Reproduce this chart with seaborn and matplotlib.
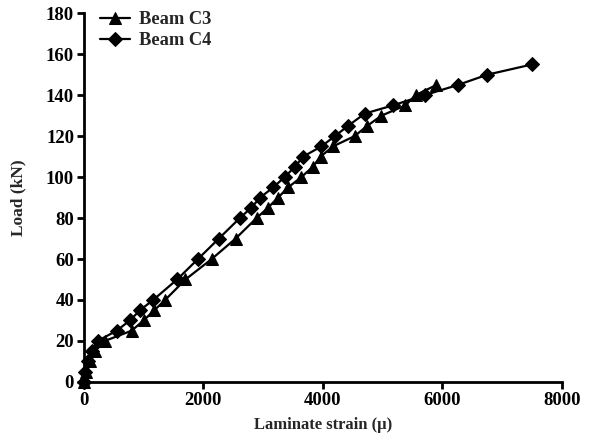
import matplotlib
matplotlib.use("Agg")
import matplotlib.pyplot as plt
import pandas as pd
import seaborn as sns

# Beam C3 (triangles)
c3_strain = [0, 40, 100, 180, 350, 800, 1000, 1180, 1360, 1700, 2140, 2540, 2890, 3080,
             3250, 3420, 3640, 3830, 3960, 4170, 4530, 4740, 4980, 5380, 5550, 5900]
c3_load = [0, 5, 10, 15, 20, 25, 30, 35, 40, 50, 60, 70, 80, 85,
           90, 95, 100, 105, 110, 115, 120, 125, 130, 135, 140, 145]

# Beam C4 (diamonds)
c4_strain = [0, 20, 70, 130, 230, 550, 770, 940, 1160, 1560, 1910, 2260, 2610, 2800,
             2950, 3170, 3360, 3530, 3670, 3975, 4200, 4420, 4700, 5170, 5700, 6260, 6750, 7500]
c4_load = [0, 5, 10, 15, 20, 25, 30, 35, 40, 50, 60, 70, 80, 85,
           90, 95, 100, 105, 110, 115, 120, 125, 131, 135, 140, 145, 150, 155]

x_ticks = [0, 2000, 4000, 6000, 8000]
y_ticks = [0, 20, 40, 60, 80, 100, 120, 140, 160, 180]

sns.set_theme(style="ticks")
plt.rcParams["font.family"] = ["Liberation Serif", "DejaVu Serif"]
plt.rcParams["font.weight"] = "bold"

fig = plt.figure(figsize=(6.03, 4.41), dpi=100)
ax = fig.add_axes([0.139, 0.134, 0.793, 0.836])

sns.lineplot(x=c3_strain, y=c3_load, sort=False, color="black", marker="^",
             markersize=9, markeredgecolor="black", linewidth=1.6, label="Beam C3", ax=ax)
sns.lineplot(x=c4_strain, y=c4_load, sort=False, color="black", marker="D",
             markersize=7, markeredgecolor="black", linewidth=1.6, label="Beam C4", ax=ax)

ax.set_xlim(0, 8000)
ax.set_ylim(0, 180)
ax.set_xticks(x_ticks)
ax.set_yticks(y_ticks)
ax.tick_params(axis="both", direction="out", length=5, width=2, colors="black",
               labelsize=13.5, pad=2)
for lbl in ax.get_xticklabels() + ax.get_yticklabels():
    lbl.set_fontweight("bold")
for side in ["left", "bottom"]:
    ax.spines[side].set_linewidth(2)
    ax.spines[side].set_color("black")
sns.despine(ax=ax)
ax.set_xlabel("Laminate strain (\u03bc)", fontsize=12, fontweight="bold", labelpad=6)
ax.set_ylabel("Load (kN)", fontsize=12.5, fontweight="bold", labelpad=14)

leg = ax.legend(loc="upper left", bbox_to_anchor=(0.0, 1.05), frameon=False,
                handlelength=1.6, handletextpad=0.5, labelspacing=0.22,
                prop={"weight": "bold", "size": 13.3})

for line in ax.lines:
    line.set_clip_on(False)

fig.savefig("out.png", dpi=100)
